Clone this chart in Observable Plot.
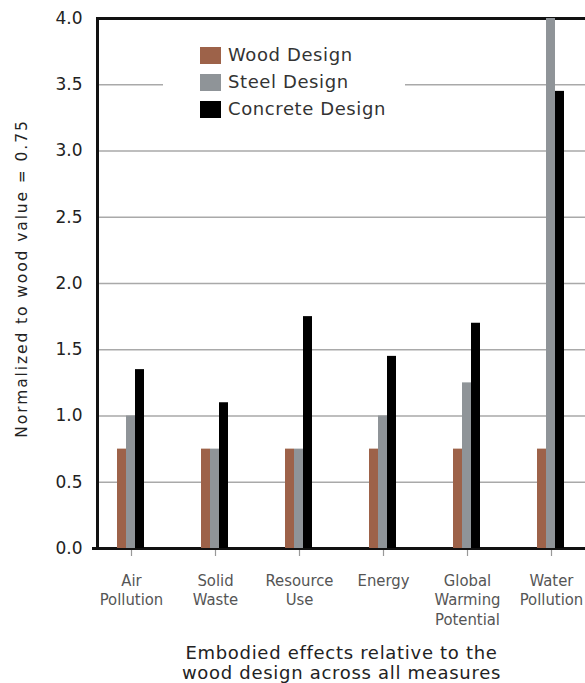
<!DOCTYPE html>
<html>
<head>
<meta charset="utf-8">
<script src="https://cdn.jsdelivr.net/npm/d3@7"></script>
<script src="https://cdn.jsdelivr.net/npm/@observablehq/plot@0.6"></script>
<style>
  html, body { margin: 0; padding: 0; background: #fff; }
  #wrap { position: relative; width: 585px; height: 683px; overflow: hidden; }
  #legend { position: absolute; left: 163px; top: 36px; width: 242px; height: 90px; background: #fff;
    font-family: "DejaVu Sans", sans-serif; font-size: 18px; color: #333; letter-spacing: 0.6px; }
  .row { position: absolute; left: 37px; height: 18px; line-height: 18px; }
  .sw { position: absolute; left: 0; top: 0; width: 21px; height: 17px; }
  .lab { position: absolute; left: 28px; top: -1px; white-space: nowrap; }
  .ylab { letter-spacing: 1.9px; }
  .xtitle { letter-spacing: 0.7px; }
</style>
</head>
<body>
<div id="wrap"></div>
<script>
const categories = ["Air Pollution", "Solid Waste", "Resource Use", "Energy", "Global Warming Potential", "Water Pollution"];
const tickLabels = ["Air\nPollution", "Solid\nWaste", "Resource\nUse", "Energy", "Global\nWarming\nPotential", "Water\nPollution"];
const series = ["Wood Design", "Steel Design", "Concrete Design"];
const colors = ["#9d6249", "#8f9498", "#000000"];
const woodValues = [0.75, 0.75, 0.75, 0.75, 0.75, 0.75];
const steelValues = [1.0, 0.75, 0.75, 1.0, 1.25, 4.0];
const concreteValues = [1.35, 1.1, 1.75, 1.45, 1.7, 3.45];
const yTicks = [0, 0.5, 1.0, 1.5, 2.0, 2.5, 3.0, 3.5, 4.0];
const gridTicks = [0.5, 1.0, 1.5, 2.0, 2.5, 3.0, 3.5];

const rows = (vals) => categories.map((c, i) => ({category: c, value: vals[i]}));
const labelOf = new Map(categories.map((c, i) => [c, tickLabels[i]]));

const plot = Plot.plot({
  width: 585,
  height: 683,
  marginLeft: 97,
  marginRight: 0,
  marginTop: 18,
  marginBottom: 135,
  style: {background: "#fff", overflow: "visible"},
  x: {domain: categories, range: [88.5, 592.5], padding: 0},
  y: {domain: [0, 4]},
  marks: [
    Plot.ruleY(gridTicks, {stroke: "#a9a9a9", strokeWidth: 1.5}),
    Plot.axisY({ticks: yTicks, tickFormat: d3.format(".1f"), tickSize: 0, tickPadding: 15,
      fontSize: 17, fill: "#222", fontFamily: "DejaVu Sans, sans-serif", label: null}),
    Plot.text(["Normalized to wood value = 0.75"], {frameAnchor: "left", textAnchor: "middle", dx: -75, dy: -5, rotate: -90,
      fontSize: 15.5, fill: "#222", fontFamily: "DejaVu Sans, sans-serif", className: "ylab"}),
    Plot.axisX({tickSize: 8, stroke: "#999", strokeWidth: 1.2, tickPadding: 15, tickFormat: d => labelOf.get(d),
      fontSize: 16.5, lineHeight: 1.2, fill: "#555", fontFamily: "DejaVu Sans Condensed, sans-serif", label: null}),
    Plot.text(["Embodied effects relative to the\nwood design across all measures"], {frameAnchor: "bottom", lineAnchor: "middle", dx: 0, dy: 114,
      fontSize: 18, lineHeight: 1.1, fill: "#222", fontFamily: "DejaVu Sans, sans-serif", className: "xtitle"}),
    Plot.ruleY([4], {stroke: "#111", strokeWidth: 3}),
    Plot.frame({anchor: "left", stroke: "#111", strokeWidth: 3}),
    Plot.ruleY([0], {stroke: "#111", strokeWidth: 3, insetLeft: -5}),
    Plot.barY(rows(woodValues), {x: "category", y: "value", fill: colors[0], insetLeft: 28, insetRight: 47}),
    Plot.barY(rows(steelValues), {x: "category", y: "value", fill: colors[1], insetLeft: 37, insetRight: 38}),
    Plot.barY(rows(concreteValues), {x: "category", y: "value", fill: colors[2], insetLeft: 46, insetRight: 29})
  ]
});

const wrap = document.getElementById("wrap");
wrap.appendChild(plot);

const legend = document.createElement("div");
legend.id = "legend";
series.forEach((s, i) => {
  const r = document.createElement("div");
  r.className = "row";
  r.style.top = (11 + i * 27) + "px";
  const sw = document.createElement("div");
  sw.className = "sw";
  sw.style.background = colors[i];
  const lab = document.createElement("div");
  lab.className = "lab";
  lab.textContent = s;
  r.appendChild(sw); r.appendChild(lab);
  legend.appendChild(r);
});
wrap.appendChild(legend);
</script>
</body>
</html>
